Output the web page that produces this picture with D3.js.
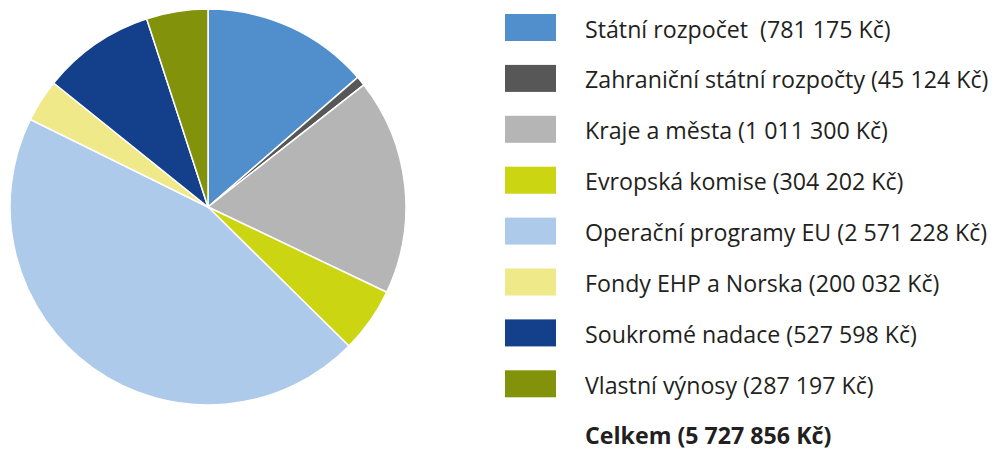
<!DOCTYPE html>
<html>
<head>
<meta charset="utf-8">
<script src="https://cdn.jsdelivr.net/npm/d3@7"></script>
<style>
  body { margin: 0; background: #fff; }
  svg { display: block; }
  text { font-family: "Open Sans", "DejaVu Sans", sans-serif; fill: #231f20; white-space: pre; }
</style>
</head>
<body>
<svg id="chart" width="998" height="450"></svg>
<script>
// data
const labels = [
  "Státní rozpočet  (781 175 Kč)",
  "Zahraniční státní rozpočty (45 124 Kč)",
  "Kraje a města (1 011 300 Kč)",
  "Evropská komise (304 202 Kč)",
  "Operační programy EU (2 571 228 Kč)",
  "Fondy EHP a Norska (200 032 Kč)",
  "Soukromé nadace (527 598 Kč)",
  "Vlastní výnosy (287 197 Kč)"
];
const values = [781175, 45124, 1011300, 304202, 2571228, 200032, 527598, 287197];
const colors = ["#508fcb", "#575757", "#b5b5b5", "#cbd512", "#adcaea", "#f0e98a", "#143f8a", "#82920b"];
const totalLabel = "Celkem (5 727 856 Kč)";

const svg = d3.select("#chart");

const pie = d3.pie().sort(null).value(d => d)(values);
const arc = d3.arc().innerRadius(0).outerRadius(198);

let g = svg.append("g").attr("transform", "translate(208,207)");
g.selectAll("path")
  .data(pie)
  .join("path")
  .attr("d", arc)
  .attr("fill", (d, i) => colors[i])
  .attr("stroke", "#fff")
  .attr("stroke-width", 1.5);

// legend
let y = d3.scaleLinear().domain([0, 1]).range([14, 64.9]);

let leg = svg.append("g");
leg.selectAll("rect")
  .data(values)
  .join("rect")
  .attr("x", 505)
  .attr("y", (d, i) => y(i))
  .attr("width", 51)
  .attr("height", 27)
  .attr("fill", (d, i) => colors[i]);

leg.selectAll("text.lbl")
  .data(labels)
  .join("text")
  .attr("class", "lbl")
  .attr("x", 585)
  .attr("y", (d, i) => y(i) + 23.5)
  .attr("font-size", 23.2)
  .text(d => d);

leg.append("text")
  .attr("x", 585)
  .attr("y", y(8) + 22.5)
  .attr("font-size", 23.2)
  .attr("font-weight", "bold")
  .text(totalLabel);
</script>
</body>
</html>
